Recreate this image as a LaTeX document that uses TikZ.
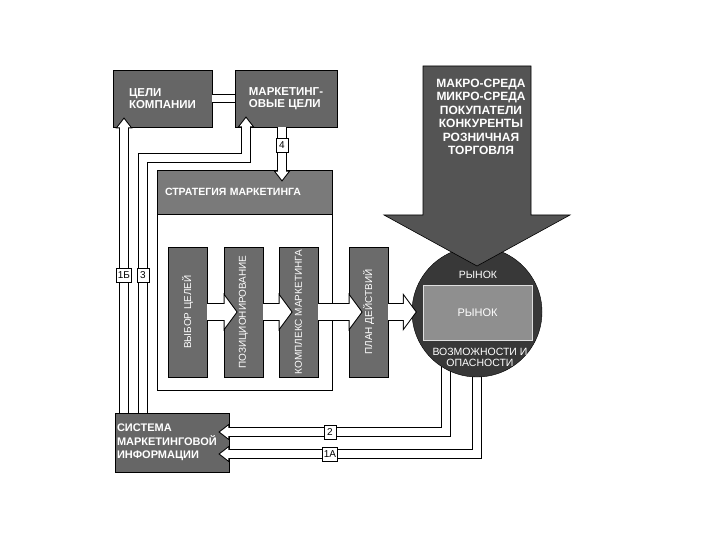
\documentclass[tikz,border=0pt]{standalone}
\usepackage{fontspec}
\setmainfont{Liberation Sans}
\usepackage{graphicx}
\usetikzlibrary{calc}
\usetikzlibrary{arrows.meta}
\pgfdeclarelayer{background}
\pgfsetlayers{background,main}
\definecolor{boxgray}{gray}{0.40}
\definecolor{stepgray}{gray}{0.42}
\definecolor{headgray}{gray}{0.48}
\definecolor{arrowgray}{gray}{0.33}
\definecolor{circgray}{gray}{0.22}
\definecolor{innergray}{gray}{0.56}
\begin{document}
\begin{tikzpicture}[x=1pt,y=-1pt,
    box/.style={fill=boxgray, draw=black, line width=0.8pt, text=white, inner sep=2pt, align=left, font=\fontsize{11.5}{11.5}\selectfont\bfseries},
    stepbox/.style={fill=stepgray, draw=black, line width=0.8pt, text=white, minimum width=39pt, minimum height=130pt, inner sep=0pt, font=\fontsize{10}{10}\selectfont},
    lab/.style={draw=black, fill=white, line width=0.8pt, inner sep=1.5pt, minimum height=14pt, minimum width=12pt, font=\fontsize{10}{10}\selectfont},
    thinarrow/.style={line width=10pt, draw=black, line join=miter, -{Triangle[length=11pt,width=17pt,line width=0pt]},
      postaction={draw=white, line width=8pt, -{Triangle[length=8.36pt,width=12.92pt,line width=0pt,sep=1.64pt]}}},
    widearrow/.style={line width=18pt, draw=black, line join=miter, -{Triangle[length=14pt,width=38pt,line width=0pt]},
      postaction={draw=white, line width=16pt, -{Triangle[length=11.76pt,width=31.92pt,line width=0pt,sep=1.24pt]}}}]
  \useasboundingbox (0,0) rectangle (720,540);
  % goals
  \node[box, minimum width=99pt, minimum height=57pt] (celi) at (162.5,98.5) {ЦЕЛИ\\КОМПАНИИ};
  \node[box, minimum width=102pt, minimum height=57pt] (mcel) at (286,98.5) {МАРКЕТИНГ-\\ОВЫЕ ЦЕЛИ};
  \draw[double, double distance=6.5pt, line width=1pt] (celi) -- (mcel);
  % strategy
  \node[draw=black, line width=0.8pt, fill=white, minimum width=175pt, minimum height=220pt] (strat) at (244.5,280) {};
  \node[fill=headgray, draw=black, line width=0.8pt, minimum width=175pt, minimum height=44pt, anchor=north, text=white, text width=159pt, inner sep=8pt, align=left, font=\fontsize{10.5}{12}\selectfont\bfseries] (shead) at (strat.north) {СТРАТЕГИЯ МАРКЕТИНГА};
  \node[stepbox] (s1) at (187.5,312) {\rotatebox{90}{ВЫБОР ЦЕЛЕЙ}};
  \node[stepbox] (s2) at (243.5,312) {\rotatebox{90}{ПОЗИЦИОНИРОВАНИЕ}};
  \node[stepbox] (s3) at (298.5,312) {\rotatebox{90}{КОМПЛЕКС МАРКЕТИНГА}};
  \node[stepbox] (s4) at (368.5,312) {\rotatebox{90}{ПЛАН ДЕЙСТВИЙ}};
  % market
  \node[circle, fill=circgray, draw=black, minimum size=130pt, inner sep=0pt] (rynok) at (477,312) {};
  \node[fill=innergray, draw=gray!25, line width=1pt, minimum width=109pt, minimum height=55pt, text=white, font=\fontsize{11}{12}\selectfont] (rin) at (477.5,312.5) {РЫНОК};
  \node[text=white, font=\fontsize{10.5}{11}\selectfont] (rtop) at (478,275) {РЫНОК};
  \node[text=white, align=center, font=\fontsize{10.5}{11}\selectfont] (rbot) at (480,357.5) {ВОЗМОЖНОСТИ И\\ОПАСНОСТИ};
  % environment
  \filldraw[fill=arrowgray, draw=black, line width=0.6pt] (423,66) -- (531,66) -- (531,215) -- (570,215) -- (477,266) -- (384,215) -- (423,215) -- cycle;
  \node[text=white, align=center, font=\fontsize{12}{13.5}\selectfont\bfseries] (sreda) at (481,117) {МАКРО-СРЕДА\\МИКРО-СРЕДА\\ПОКУПАТЕЛИ\\КОНКУРЕНТЫ\\РОЗНИЧНАЯ\\ТОРГОВЛЯ};
  % information system
  \begin{pgfonlayer}{background}
    \node[box, minimum width=114pt, minimum height=59pt, text width=110pt, font=\fontsize{11}{13.5}\selectfont\bfseries] (sys) at (172,442.5) {СИСТЕМА\\МАРКЕТИНГОВОЙ\\ИНФОРМАЦИИ};
    \draw[thinarrow, shorten >=-11pt] (rynok.center -| 446,0) |- ([yshift=10.5pt]sys.east);
    \draw[thinarrow, shorten >=-11pt] (rynok.center) |- ([yshift=-11.5pt]sys.east);
  \end{pgfonlayer}
  % arrows
  \draw[widearrow, shorten >=-14pt] (s1) -- (s2);
  \draw[widearrow, shorten >=-14pt] (s2) -- (s3);
  \draw[widearrow, shorten >=-14pt] (s3) -- (s4);
  \draw[widearrow, shorten >=-5pt] (s4) -- (rynok);
  \draw[thinarrow, shorten >=-12pt] (mcel.south -| 282,0) -- (shead.north -| 282,0);
  \draw[thinarrow, shorten >=-10pt] (sys.north -| 124,0) -- (celi.south -| 124,0);
  \draw[thinarrow, shorten >=-11pt] (sys.north -| 143,0) |- (246,158.5) -- (mcel.south -| 246,0);
  % labels
  \node[lab] (l1b) at (124,275) {1Б};
  \node[lab] (l3) at (143,275) {3};
  \node[lab] (l4) at (282,145) {4};
  \node[lab] (l2) at (330,432) {2};
  \node[lab] (l1a) at (330,454) {1А};
\end{tikzpicture}
\end{document}
